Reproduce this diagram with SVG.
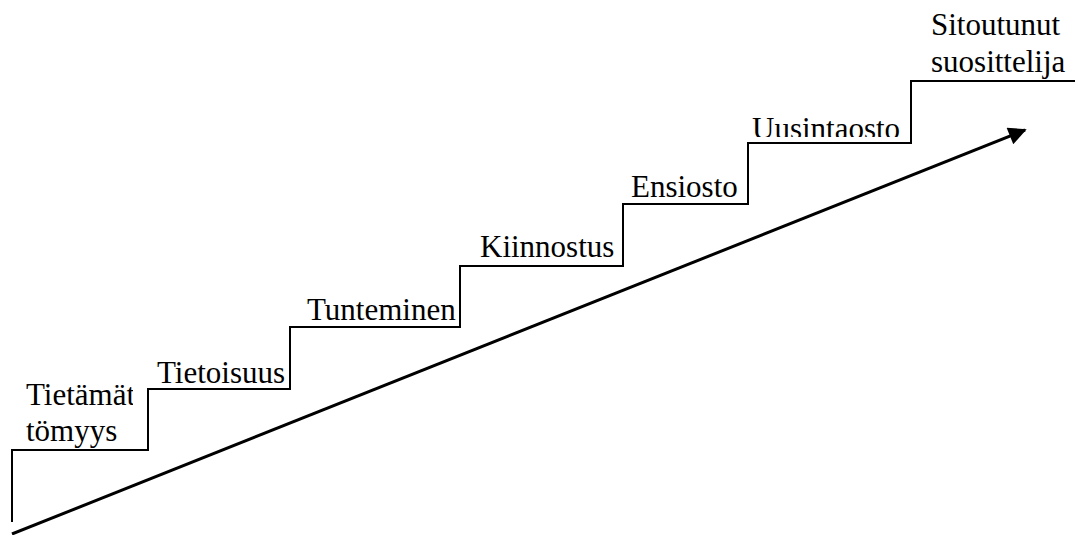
<svg xmlns="http://www.w3.org/2000/svg" width="1075" height="535" viewBox="0 0 1075 535">
  <style>
    .stair { fill: none; stroke: #000; stroke-width: 2; }
    .trend { fill: none; stroke: #000; stroke-width: 3; }
  </style>
  <defs>
    <marker id="head" viewBox="0 0 10 10" refX="9" refY="5" markerWidth="7" markerHeight="6" markerUnits="strokeWidth" orient="auto">
      <path d="M0,0 L10,5 L0,10 Z" fill="#000"/>
    </marker>
    <clipPath id="clipFirst"><rect x="0" y="360" width="133" height="100"/></clipPath>
    <clipPath id="clipRepeat"><rect x="740" y="100" width="170" height="37"/></clipPath>
  </defs>

  <rect width="1075" height="535" fill="#fff"/>

  <!-- staircase and trend arrow -->
  <g id="connectors">
    <path class="stair" d="M12,522 V450 H148 V389 H290 V327 H460 V266 H623 V204 H748 V143 H911 V81 H1075"/>
    <line class="trend" x1="12" y1="534" x2="1025" y2="130" marker-end="url(#head)"/>
  </g>

  <!-- step labels -->
  <g id="step-1" clip-path="url(#clipFirst)">
    <text font-family="Liberation Serif" font-size="31" x="26" y="405">Tiet&#228;m&#228;t</text>
    <text font-family="Liberation Serif" font-size="31" x="26" y="441">t&#246;myys</text>
  </g>
  <g id="step-2">
    <text font-family="Liberation Serif" font-size="31" x="157" y="383">Tietoisuus</text>
  </g>
  <g id="step-3">
    <text font-family="Liberation Serif" font-size="31" x="307" y="320">Tunteminen</text>
  </g>
  <g id="step-4">
    <text font-family="Liberation Serif" font-size="31" x="480" y="257">Kiinnostus</text>
  </g>
  <g id="step-5">
    <text font-family="Liberation Serif" font-size="31" x="631" y="197">Ensiosto</text>
  </g>
  <g id="step-6" clip-path="url(#clipRepeat)">
    <text font-family="Liberation Serif" font-size="31" x="752" y="139">Uusintaosto</text>
  </g>
  <g id="step-7">
    <text font-family="Liberation Serif" font-size="31" x="931" y="35">Sitoutunut</text>
    <text font-family="Liberation Serif" font-size="31" x="931" y="72">suosittelija</text>
  </g>
</svg>
